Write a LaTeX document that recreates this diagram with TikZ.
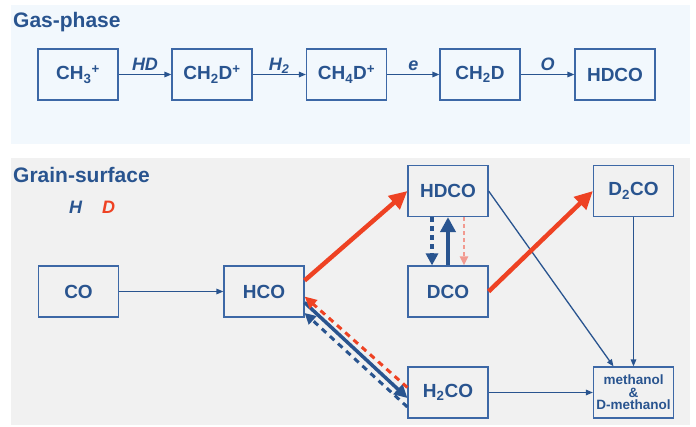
\documentclass[tikz,border=0pt]{standalone}
\usepackage{fontspec}
\setmainfont{Liberation Sans}
\usetikzlibrary{arrows.meta}
\definecolor{dblue}{HTML}{29548F}
\definecolor{bblue}{HTML}{3D68A6}
\definecolor{ored}{HTML}{EE4223}
\definecolor{salmon}{HTML}{F29A90}
\definecolor{gasbg}{HTML}{F2F8FD}
\definecolor{grainbg}{HTML}{F1F1F1}
\begin{document}
\begin{tikzpicture}[x=1pt,y=-1pt,
  box/.style={draw=bblue, line width=1.2pt, minimum width=80pt, minimum height=51pt,
    inner sep=0pt, text=dblue, font=\fontsize{19}{22}\selectfont\bfseries},
  ttl/.style={anchor=base west, inner sep=0pt, text=dblue,
    font=\fontsize{21}{24}\selectfont\bfseries},
  lab/.style={text=dblue, font=\fontsize{18}{20}\selectfont\bfseries\itshape,
    inner sep=0pt, anchor=base},
  thinarrow/.style={draw=dblue, line width=1.3pt, -{Triangle[length=7pt,width=5.5pt]}},
  redthick/.style={draw=ored, line width=4.5pt, -{Triangle[length=18pt,width=17pt]}},
  bluethick/.style={draw=dblue, line width=4.5pt, -{Triangle[length=15pt,width=15pt]}},
  bluedash/.style={draw=dblue, line width=3.5pt, dash pattern=on 5pt off 4pt,
    -{Triangle[length=12pt,width=12pt]}},
  salmondash/.style={draw=salmon, line width=2pt, dash pattern=on 4pt off 3pt,
    -{Triangle[length=9pt,width=8pt]}},
  bluemid/.style={draw=dblue, line width=3.5pt, -{Triangle[length=13pt,width=13pt]}},
  reddash/.style={draw=ored, line width=3pt, dash pattern=on 6pt off 5pt,
    -{Triangle[length=12pt,width=11pt]}},
  bluedash2/.style={draw=dblue, line width=3pt, dash pattern=on 6pt off 5pt,
    -{Triangle[length=11pt,width=11pt]}}
]
\useasboundingbox (0,0) rectangle (696,426);
% panels
\fill[gasbg] (11,5) rectangle (690,144);
\fill[grainbg] (11,158) rectangle (690,425);

% titles
\node[ttl] (gtitle) at (13,27) {Gas-phase};
\node[ttl] (stitle) at (13,182) {Grain-surface};
\node[lab, text=dblue, anchor=base west] (legH) at (69,213) {H};
\node[lab, text=ored, anchor=base west] (legD) at (102,213) {D};

% gas-phase boxes
\node[box] (ch3) at (78,74.5) {CH\textsubscript{3}\textsuperscript{+}};
\node[box] (ch2dp) at (212,74.5) {CH\textsubscript{2}D\textsuperscript{+}};
\node[box] (ch4dp) at (346.5,74.5) {CH\textsubscript{4}D\textsuperscript{+}};
\node[box] (ch2d) at (480,74.5) {CH\textsubscript{2}D};
\node[box] (hdcog) at (615,74.5) {HDCO};

\draw[thinarrow] (ch3) -- node[lab, midway, yshift=4pt] {HD} (ch2dp);
\draw[thinarrow] (ch2dp) -- node[lab, midway, yshift=4pt] {H\textsubscript{2}} (ch4dp);
\draw[thinarrow] (ch4dp) -- node[lab, midway, yshift=4pt] {e} (ch2d);
\draw[thinarrow] (ch2d) -- node[lab, midway, yshift=4pt] {O} (hdcog);

% grain-surface boxes
\node[box] (co) at (78.5,291.5) {CO};
\node[box] (hco) at (264,291.5) {HCO};
\node[box] (hdco) at (448,191) {HDCO};
\node[box] (dco) at (448,291.5) {DCO};
\node[box] (h2co) at (448,392.5) {H\textsubscript{2}CO};
\node[box] (d2co) at (633.5,191) {D\textsubscript{2}CO};
\node[box, align=center, font=\fontsize{13.5}{12.5}\selectfont\bfseries] (meth) at (633.5,392.5)
  {methanol\\\&\\D-methanol};

% thin connectors
\draw[thinarrow] (co) -- (hco);
\draw[thinarrow] (hdco.east) -- ([xshift=-20pt]meth.north);
\draw[thinarrow] (d2co) -- (meth);
\draw[thinarrow] (h2co) -- (meth);

% red D-addition arrows
\draw[redthick] ([yshift=11pt]hco.east) -- (hdco.west);
\draw[redthick] (dco.east) -- (d2co.west);

% HDCO <-> DCO
\draw[bluedash] ([xshift=-16pt]hdco.south) -- ([xshift=-16pt]dco.north);
\draw[bluethick] (dco.north) -- (hdco.south);
\draw[salmondash] ([xshift=16pt]hdco.south) -- ([xshift=16pt]dco.north);

% HCO <-> H2CO
\draw[bluemid] ([yshift=-11pt]hco.east) -- ([yshift=-5.5pt]h2co.west);
\draw[reddash] ([yshift=5pt]h2co.west) -- ([yshift=-5pt]hco.east);
\draw[bluedash2] ([yshift=-14.5pt]h2co.west) -- ([yshift=-21.5pt]hco.east);
\end{tikzpicture}
\end{document}
